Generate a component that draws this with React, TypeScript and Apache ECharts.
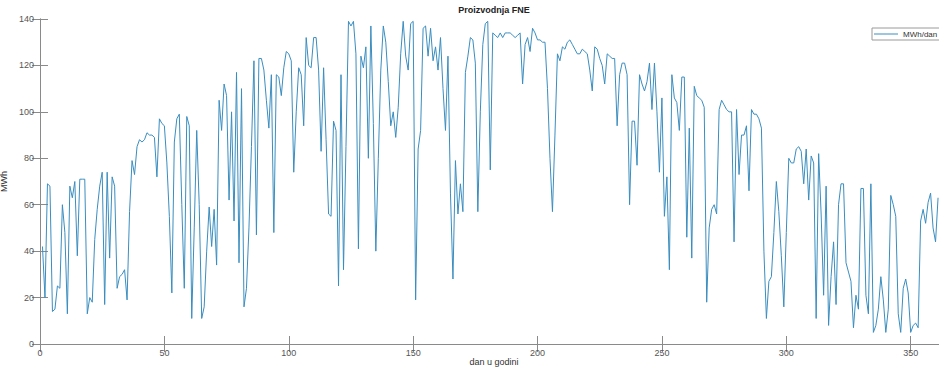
import React, { useEffect, useRef } from "react";
import * as echarts from "echarts";

// Daily solar plant production (MWh per day), day 1 .. 361 (visible part)
const production: number[] = [
  42, 20, 69, 68, 14, 15, 25, 24, 60, 48,
  13, 68, 63, 70, 38, 71, 71, 71, 13, 20,
  18, 45, 58, 68, 74, 17, 74, 37, 72, 68,
  24, 29, 30, 32, 19, 57, 79, 73, 85, 88,
  87, 88, 91, 90, 90, 89, 72, 97, 95, 94,
  78, 55, 22, 87, 97, 99, 60, 24, 98, 94,
  11, 50, 92, 60, 11, 16, 40, 59, 42, 58,
  34, 105, 92, 112, 107, 62, 100, 53, 117, 35,
  110, 16, 24, 50, 85, 122, 47, 123, 123, 118,
  105, 93, 116, 48, 116, 115, 107, 119, 126, 125,
  122, 74, 100, 119, 116, 94, 132, 120, 119, 132,
  132, 118, 83, 119, 88, 56, 55, 96, 92, 25,
  116, 32, 85, 139, 137, 139, 125, 41, 124, 119,
  128, 80, 137, 95, 40, 80, 118, 137, 130, 113,
  94, 100, 89, 102, 125, 139, 124, 118, 138, 139,
  19, 84, 92, 136, 137, 124, 136, 122, 128, 118,
  132, 110, 92, 124, 65, 28, 79, 56, 69, 57,
  117, 124, 132, 131, 121, 57, 100, 129, 138, 139,
  75, 134, 133, 132, 134, 132, 134, 134, 134, 133,
  132, 133, 134, 112, 129, 132, 126, 136, 134, 131,
  131, 130, 130, 110, 80, 57, 90, 125, 122, 128,
  127, 130, 131, 129, 127, 125, 125, 127, 126, 125,
  118, 109, 128, 127, 123, 120, 112, 125, 124, 123,
  123, 94, 116, 121, 121, 116, 60, 96, 96, 77,
  116, 112, 109, 113, 121, 101, 121, 100, 74, 106,
  55, 72, 32, 116, 106, 104, 92, 115, 115, 46,
  93, 37, 111, 107, 106, 105, 102, 18, 50, 58,
  60, 56, 101, 105, 103, 101, 100, 100, 44, 101,
  73, 90, 90, 94, 66, 101, 99, 99, 97, 93,
  40, 11, 27, 29, 48, 70, 57, 38, 16, 48,
  80, 78, 78, 84, 85, 83, 69, 84, 62, 81,
  78, 11, 82, 56, 21, 68, 8, 29, 44, 17,
  60, 69, 69, 35, 31, 27, 7, 21, 15, 67,
  67, 21, 13, 69, 5, 8, 15, 29, 19, 5,
  15, 64, 60, 55, 13, 5, 24, 28, 22, 5,
  8, 9, 7, 53, 58, 52, 61, 65, 50, 44,
  63,
];

const xTicks = [0, 50, 100, 150, 200, 250, 300, 350];
const yTicks = [0, 20, 40, 60, 80, 100, 120, 140];
const titleText = "Proizvodnja FNE";
const xName = "dan u godini";
const yName = "MWh";
const seriesName = "MWh/dan";

const FONT = "'Liberation Sans', Arial, Helvetica, sans-serif";
const AXIS_COLOR = "#8a8a8a";
const LABEL_COLOR = "#555555";
const LINE_COLOR = "#3a8dbf";

export default function App() {
  const ref = useRef<HTMLDivElement>(null);

  useEffect(() => {
    if (!ref.current) return;
    const chart = echarts.init(ref.current, undefined, { renderer: "svg" });
    const points = production.map((v, i) => [i + 1, v]);

    const commonAxisLine = { show: true, lineStyle: { color: AXIS_COLOR, width: 1 } };

    chart.setOption({
      animation: false,
      backgroundColor: "#ffffff",
      textStyle: { fontFamily: FONT },
      grid: {
        left: 40,
        right: -9,
        top: 19,
        bottom: 25,
        containLabel: false,
        outerBoundsMode: "none",
      },
      graphic: [
        {
          type: "text",
          x: 494,
          y: 10,
          style: {
            text: titleText,
            font: `bold 9px ${FONT}`,
            fill: "#222222",
            textAlign: "center",
            textVerticalAlign: "middle",
          },
        },
        {
          type: "text",
          x: 494,
          y: 362,
          style: {
            text: xName,
            font: `9px ${FONT}`,
            fill: "#333333",
            textAlign: "center",
            textVerticalAlign: "middle",
          },
        },
      ],
      legend: {
        show: true,
        data: [{ name: seriesName, icon: "rect" }],
        left: 872,
        top: 28,
        orient: "horizontal",
        padding: [2, 8, 2, 2],
        itemWidth: 24,
        itemHeight: 1,
        itemGap: 4,
        borderColor: "#9a9a9a",
        borderWidth: 1,
        borderRadius: 0,
        backgroundColor: "#ffffff",
        textStyle: { fontSize: 8, color: "#333333", fontFamily: FONT },
      },
      xAxis: [
        {
          type: "value",
          position: "bottom",
          min: 0,
          max: 365,
          interval: 50,
          axisLine: commonAxisLine,
          axisTick: { show: true, inside: true, length: 8, lineStyle: { color: AXIS_COLOR } },
          axisLabel: {
            show: true,
            color: LABEL_COLOR,
            fontSize: 9,
            fontFamily: FONT,
            margin: 4,
            showMaxLabel: false,
            formatter: (v: number) => (xTicks.includes(v) ? String(v) : ""),
          },
          splitLine: { show: false },
        },
        {
          type: "value",
          position: "top",
          min: 0,
          max: 365,
          interval: 50,
          axisLine: commonAxisLine,
          axisTick: { show: true, inside: true, length: 8, lineStyle: { color: AXIS_COLOR } },
          axisLabel: { show: false },
          splitLine: { show: false },
        },
      ],
      yAxis: [
        {
          type: "value",
          position: "left",
          min: 0,
          max: 140,
          interval: 20,
          axisLine: commonAxisLine,
          axisTick: { show: true, inside: true, length: 8, lineStyle: { color: AXIS_COLOR } },
          axisLabel: {
            show: true,
            color: LABEL_COLOR,
            fontSize: 9,
            fontFamily: FONT,
            margin: 6,
            formatter: (v: number) => (yTicks.includes(v) ? String(v) : ""),
          },
          splitLine: { show: false },
          name: yName,
          nameLocation: "middle",
          nameRotate: 90,
          nameGap: 21,
          nameTextStyle: { fontSize: 9, color: "#333333", fontFamily: FONT },
        },
        {
          type: "value",
          position: "right",
          min: 0,
          max: 140,
          interval: 20,
          axisLine: commonAxisLine,
          axisTick: { show: true, inside: true, length: 8, lineStyle: { color: AXIS_COLOR } },
          axisLabel: { show: false },
          splitLine: { show: false },
        },
      ],
      series: [
        {
          name: seriesName,
          type: "line",
          xAxisIndex: 0,
          yAxisIndex: 0,
          data: points,
          symbol: "none",
          showSymbol: false,
          lineStyle: { color: LINE_COLOR, width: 1 },
          itemStyle: { color: LINE_COLOR },
          emphasis: { disabled: true },
        },
      ],
    });

    return () => chart.dispose();
  }, []);

  return (
    <div
      ref={ref}
      style={{ position: "fixed", left: 0, top: 0, width: 939, height: 369, background: "#fff" }}
    />
  );
}
